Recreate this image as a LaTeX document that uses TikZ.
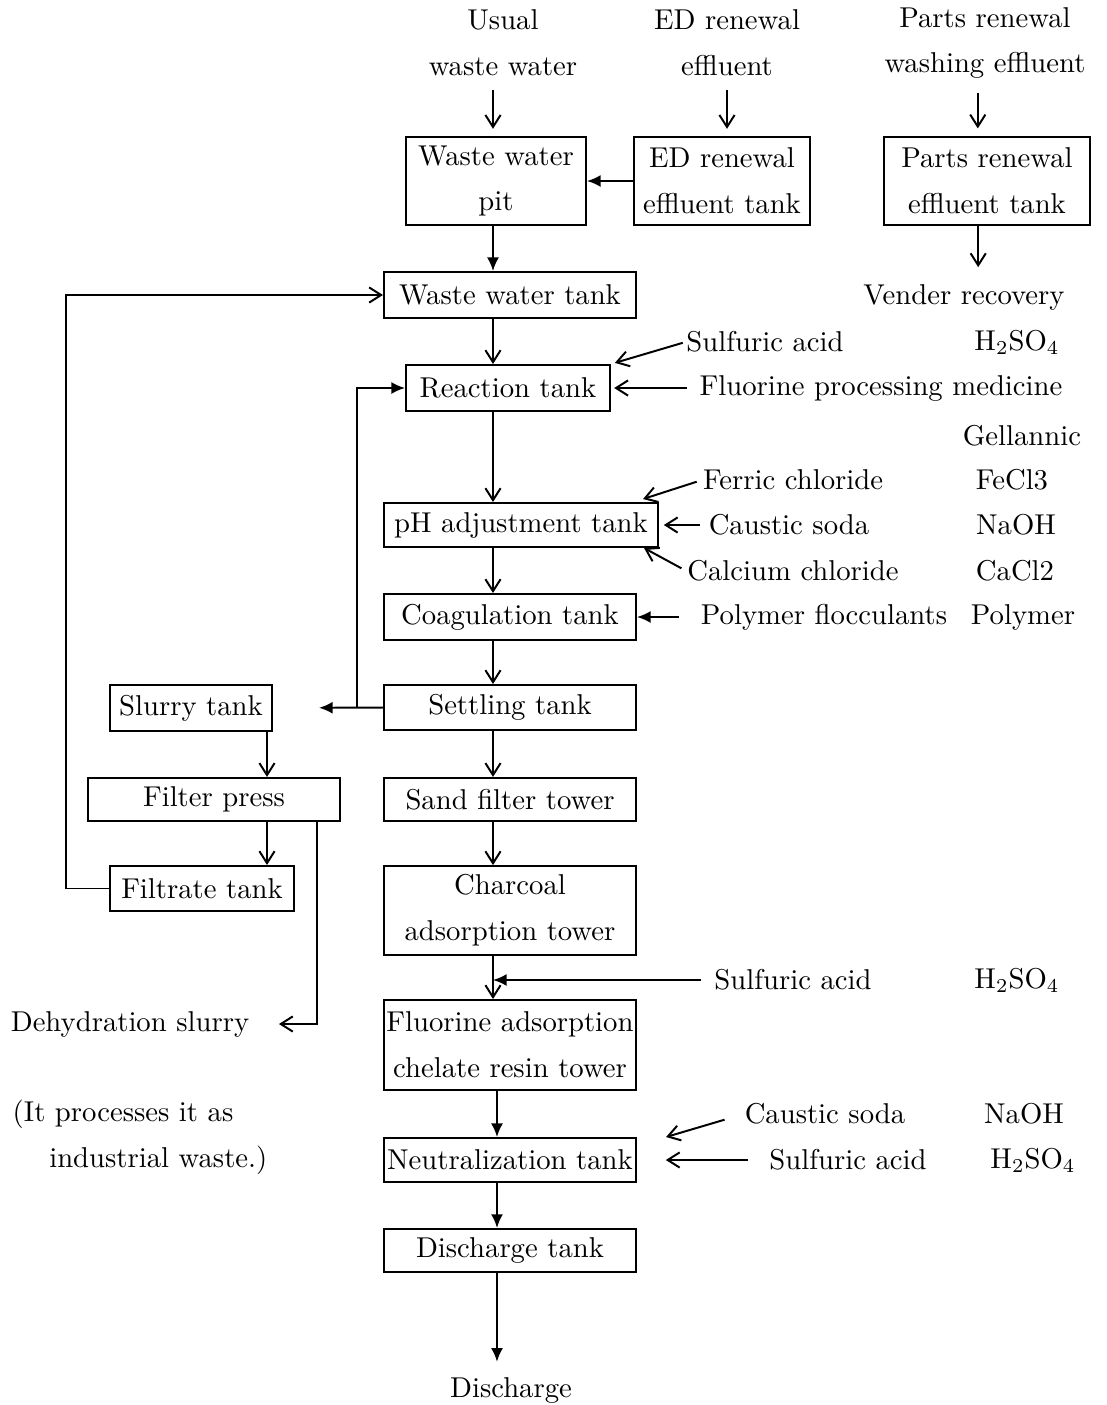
\documentclass[tikz,border=0pt]{standalone}
\usepackage{tikz}
\usetikzlibrary{arrows.meta}
\usetikzlibrary{calc}

\begin{document}
\begin{tikzpicture}[x=0.0125cm, y=-0.0125cm, line width=0.7pt,
    every node/.style={font=\fontsize{10.2}{16.3}\selectfont, inner sep=0pt},
    tank/.style={draw, align=center},
    linkopen/.style={-{Straight Barb[length=1.5mm,width=1.9mm]}},
    linkfull/.style={-{Latex[length=1.7mm,width=1.5mm]}}]
  \useasboundingbox (0,0) rectangle (1107,1405);

  % Arrivées d'eau
  \node[align=center] (usual) at (503,43) {Usual\\waste water};
  \node[align=center] (edin) at (727,43) {ED renewal\\effluent};
  \node[align=center] (partsin) at (985,43) {Parts renewal\\washing effluent};

  % Cuves du haut
  \node[tank, minimum width=2.25cm, minimum height=1.1cm] (pit) at (496,181) {Waste water\\pit};
  \node[tank, minimum width=2.21cm, minimum height=1.1cm] (edtank) at (722,181) {ED renewal\\effluent tank};
  \node[tank, minimum width=2.575cm, minimum height=1.11cm] (partstank) at (987,181) {Parts renewal\\effluent tank};
  \node (vender) at (964,297) {Vender recovery};

  % Colonne principale
  \node[tank, minimum width=3.15cm, minimum height=0.575cm] (wwtank) at (510,295) {Waste water tank};
  \node[tank, minimum width=2.55cm, minimum height=0.575cm] (reaction) at (508,388) {Reaction tank};
  \node[tank, minimum width=3.425cm, minimum height=0.55cm] (phtank) at (521,525) {pH adjustment tank};
  \node[tank, minimum width=3.15cm, minimum height=0.575cm] (coag) at (510,617) {Coagulation tank};
  \node[tank, minimum width=3.15cm, minimum height=0.5625cm] (settling) at (510,707.5) {Settling tank};
  \node[tank, minimum width=3.15cm, minimum height=0.54cm] (sand) at (510,799.5) {Sand filter tower};
  \node[tank, minimum width=3.15cm, minimum height=1.11cm] (charcoal) at (510,910.5) {Charcoal\\adsorption tower};
  \node[tank, minimum width=3.15cm, minimum height=1.125cm] (fluorine) at (510,1045) {Fluorine adsorption\\chelate resin tower};
  \node[tank, minimum width=3.15cm, minimum height=0.55cm] (neutral) at (510,1160) {Neutralization tank};
  \node[tank, minimum width=3.15cm, minimum height=0.54cm] (dischtank) at (510,1250.5) {Discharge tank};
  \node (discharge) at (511,1390) {Discharge};

  % Traitement des boues
  \node[tank, minimum width=2.025cm, minimum height=0.575cm] (slurry) at (191,708) {Slurry tank};
  \node[tank, minimum width=3.15cm, minimum height=0.54cm] (press) at (214,799.5) {Filter press};
  \node[tank, minimum width=2.3cm, minimum height=0.5625cm] (filtrate) at (202,888.5) {Filtrate tank};
  \node (dehyd) at (130,1024) {Dehydration slurry};
  \node[align=left] (note) at (140,1137) {(It processes it as\\\hspace*{13pt}industrial waste.)};

  % Produits ajoutés
  \node (sa1) at (765,342) {Sulfuric acid};
  \node (fpm) at (881,388) {Fluorine processing medicine};
  \node (fecl) at (793,480) {Ferric chloride};
  \node (soda1) at (789,525) {Caustic soda};
  \node (cacl) at (793,571) {Calcium chloride};
  \node (poly) at (824,617) {Polymer flocculants};
  \node (sa2) at (793,980) {Sulfuric acid};
  \node (soda2) at (825,1114) {Caustic soda};
  \node (sa3) at (848,1160) {Sulfuric acid};

  % Formules
  \foreach \nm/\xx/\yy/\txt in {f1/1017/342/H$_2$SO$_4$, f2/1022/436/Gellannic,
      f3/1012/480/FeCl3, f4/1016/525/NaOH, f5/1015/571/CaCl2, f6/1023/617/Polymer,
      f7/1017/980/H$_2$SO$_4$, f8/1024/1114/NaOH, f9/1033/1160/H$_2$SO$_4$}
    \node (\nm) at (\xx,\yy) {\txt};

  % Colonnes des flèches
  \coordinate (col) at (493,0);
  \coordinate (colb) at (497,0);
  \coordinate (lcol) at (267,0);
  \coordinate (drop) at (317,0);
  \coordinate (branch) at (357,707.5);

  % Flèches du haut
  \draw[linkopen, shorten <=0.16cm, shorten >=0.09cm] (col |- usual.south) -- (col |- pit.north);
  \draw[linkopen, shorten <=0.16cm, shorten >=0.09cm] (edin.south) -- (edin.south |- edtank.north);
  \draw[linkopen, shorten <=0.16cm, shorten >=0.09cm] ([xshift=-0.09cm]partsin.south) -- ([xshift=-0.09cm]partsin.south |- partstank.north);
  \draw[linkfull] (edtank.west) -- (pit.east);
  \draw[linkopen, shorten >=0.2cm] ([xshift=-0.11cm]partstank.south) -- ([xshift=-0.11cm]partstank.south |- vender.north);

  % Flèches principales
  \draw[linkfull] (col |- pit.south) -- (col |- wwtank.north);
  \draw[linkopen] (col |- wwtank.south) -- (col |- reaction.north);
  \draw[linkopen] (col |- reaction.south) -- (col |- phtank.north);
  \draw[linkopen] (col |- phtank.south) -- (col |- coag.north);
  \draw[linkopen] (col |- coag.south) -- (col |- settling.north);
  \draw[linkopen] (col |- settling.south) -- (col |- sand.north);
  \draw[linkopen] (col |- sand.south) -- (col |- charcoal.north);
  \draw[linkopen] (col |- charcoal.south) -- (col |- fluorine.north);
  \draw[linkfull] (colb |- fluorine.south) -- (colb |- neutral.north);
  \draw[linkfull] (colb |- neutral.south) -- (colb |- dischtank.north);
  \draw[linkfull, shorten >=0.18cm] (colb |- dischtank.south) -- (colb |- discharge.north);

  % Ajouts de réactifs
  \draw[linkopen, shorten <=1pt, shorten >=0.5mm] (sa1.west) -- (reaction.north east);
  \draw[linkopen, shorten <=0.15cm, shorten >=0.04cm] (fpm.west) -- (reaction.east);
  \draw[linkopen, shorten <=2pt] (fecl.west) -- ($(phtank.north east)+(-16,-3)$);
  \draw[linkopen, shorten <=0.1cm, shorten >=0.06cm] (soda1.west) -- (phtank.east);
  \draw[linkopen, shorten <=2pt] (cacl.west) -- ($(phtank.south east)+(-15,0)$);
  \draw[linkfull, shorten <=0.26cm] (poly.west) -- (coag.east);
  \draw[linkfull, shorten <=0.15cm] (sa2.west) -- (col |- sa2.west);
  \draw[linkopen, shorten <=0.25cm] (soda2.west) -- ($(neutral.north east)+(29,0)$);
  \draw[linkopen, shorten <=0.25cm, shorten >=0.36cm] (sa3.west) -- (neutral.east);

  % Boues et recyclage
  \draw[linkfull, shorten >=0.575cm] (settling.west) -- (slurry.east);
  \draw[linkfull] (branch) |- (reaction.west);
  \draw[linkopen] (lcol |- slurry.south) -- (lcol |- press.north);
  \draw[linkopen] (lcol |- press.south) -- (lcol |- filtrate.north);
  \draw[linkopen, shorten >=0.36cm] (drop |- press.south) |- (dehyd.east);
  \draw[linkopen] (filtrate.west) -- ++(-43,0) |- (wwtank.west);
\end{tikzpicture}
\end{document}
